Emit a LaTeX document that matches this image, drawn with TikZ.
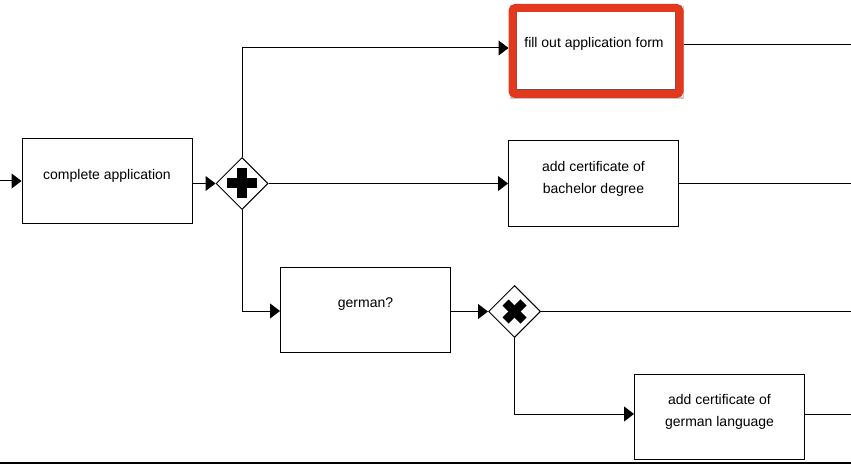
\documentclass[tikz,border=0pt]{standalone}
\usepackage{fontspec}
\setmainfont{Liberation Sans}
\usetikzlibrary{arrows.meta,shapes.geometric,shadows,positioning}
\definecolor{hired}{RGB}{226,56,30}
\begin{document}
\begin{tikzpicture}[x=1pt,y=-1pt,
  flow/.style={draw=black,line width=1pt,-{Triangle[length=10pt,width=15pt]}},
  plain/.style={draw=black,line width=1pt},
  task/.style={draw=black,line width=1pt,fill=white,minimum width=170pt,minimum height=85pt,inner sep=0pt},
  tasktext/.style={font=\fontsize{14}{22}\selectfont,align=center,inner sep=0pt},
  gate/.style={draw=black,line width=1pt,fill=white,diamond,minimum width=52pt,minimum height=52pt,inner sep=0pt}
]
\useasboundingbox (0,0) rectangle (851,465);
% nodes
\node[task] (ca) at (107,181) {};
\node[tasktext] (cat) at ([yshift=5pt]ca.center) {complete application};
\node[gate] (g1) at (242,183.5) {};
\node[task,minimum width=174pt,minimum height=93pt,draw=none,fill=white,drop shadow={shadow xshift=1pt,shadow yshift=-2pt,opacity=0.45}] (fo) at (596,51) {};
\draw[gray!70!black,line width=1pt] ([xshift=8pt,yshift=-8pt]fo.north west) rectangle ([xshift=-8pt,yshift=8pt]fo.south east);
\draw[hired,line width=8pt,rounded corners=3pt] ([xshift=4pt,yshift=-4pt]fo.north west) rectangle ([xshift=-4pt,yshift=4pt]fo.south east);
\node[tasktext] (fot) at (594,43.5) {fill out application form};
\node[task] (bd) at (593.5,183.5) {};
\node[tasktext] (bdt) at ([yshift=5pt]bd.center) {add certificate of\\bachelor degree};
\node[task] (gq) at (365.5,310) {};
\node[tasktext] (gqt) at ([yshift=6pt]gq.center) {german?};
\node[gate] (g2) at (514.5,311.5) {};
\node[task] (gl) at (719.5,417) {};
\node[tasktext] (glt) at ([yshift=5.5pt]gl.center) {add certificate of\\german language};
% gateway markers
\draw[line width=10pt] ([xshift=-15pt]g1.center) -- ([xshift=15pt]g1.center);
\draw[line width=10pt] ([yshift=-15pt]g1.center) -- ([yshift=15pt]g1.center);
\draw[line width=8.5pt] ([xshift=-9pt,yshift=-9pt]g2.center) -- ([xshift=9pt,yshift=9pt]g2.center);
\draw[line width=8.5pt] ([xshift=-9pt,yshift=9pt]g2.center) -- ([xshift=9pt,yshift=-9pt]g2.center);
% coordinates for free ends
\coordinate (in) at (0,181);
\coordinate (o1) at (851,45);
\coordinate (o2) at (851,183.5);
\coordinate (o3) at (851,311.5);
\coordinate (o4) at (851,414);
\coordinate (bl) at (0,463);
\coordinate (br) at (851,463);
% connectors
\draw[flow] (in) -- (ca.west);
\draw[flow] (ca.east |- g1.west) -- (g1.west);
\draw[flow] (g1.north) |- (fo.west |- 0,48);
\draw[flow] (g1.east) -- (bd.west);
\draw[flow] (g1.south) |- (gq.west |- 0,311);
\draw[flow] (gq.east |- g2.west) -- (g2.west);
\draw[flow] (g2.south) |- (gl.west |- 0,414);
\draw[plain] (fo.east |- o1) -- (o1);
\draw[plain] (bd.east) -- (o2);
\draw[plain] (g2.east) -- (o3);
\draw[plain] (gl.east |- o4) -- (o4);
\draw[line width=1.6pt] (bl) -- (br);
\end{tikzpicture}
\end{document}
